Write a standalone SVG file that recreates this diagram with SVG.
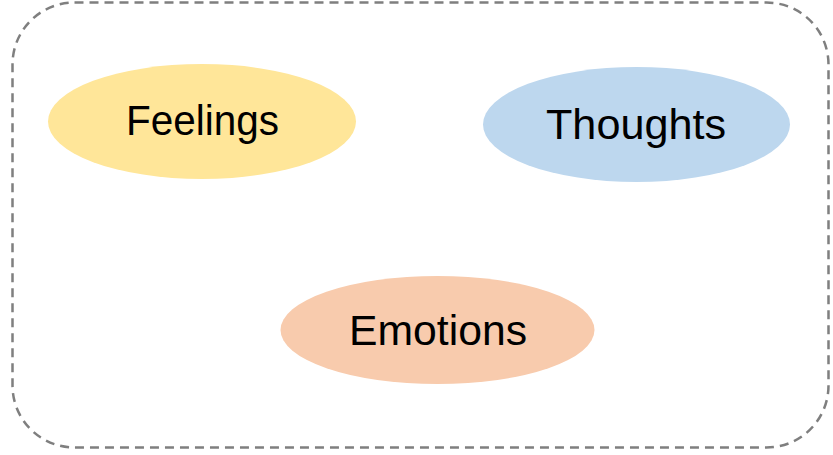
<svg xmlns="http://www.w3.org/2000/svg" width="833" height="455" viewBox="0 0 833 455">
<style>
.lbl{font-family:"Liberation Sans",Arial,sans-serif;font-size:42px;fill:#000;text-anchor:middle}
</style>
<rect x="0" y="0" width="833" height="455" fill="#fff"/>
<rect id="frame" x="12.5" y="2.5" width="816" height="445" rx="62" ry="62" fill="none" stroke="#7f7f7f" stroke-width="2.5" stroke-dasharray="9 6"/>
<g id="feelings">
<ellipse cx="202" cy="121.5" rx="154" ry="57.5" fill="#FFE699"/>
<text class="lbl" x="202.5" y="135" textLength="153" lengthAdjust="spacingAndGlyphs">Feelings</text>
</g>
<g id="thoughts">
<ellipse cx="636.5" cy="124.5" rx="153.5" ry="57.5" fill="#BDD7EE"/>
<text class="lbl" x="636" y="139" textLength="180" lengthAdjust="spacingAndGlyphs">Thoughts</text>
</g>
<g id="emotions">
<ellipse cx="437.5" cy="330" rx="157" ry="54" fill="#F8CBAD"/>
<text class="lbl" x="438" y="345" textLength="178" lengthAdjust="spacingAndGlyphs">Emotions</text>
</g>
<g id="connectors"></g>
</svg>
